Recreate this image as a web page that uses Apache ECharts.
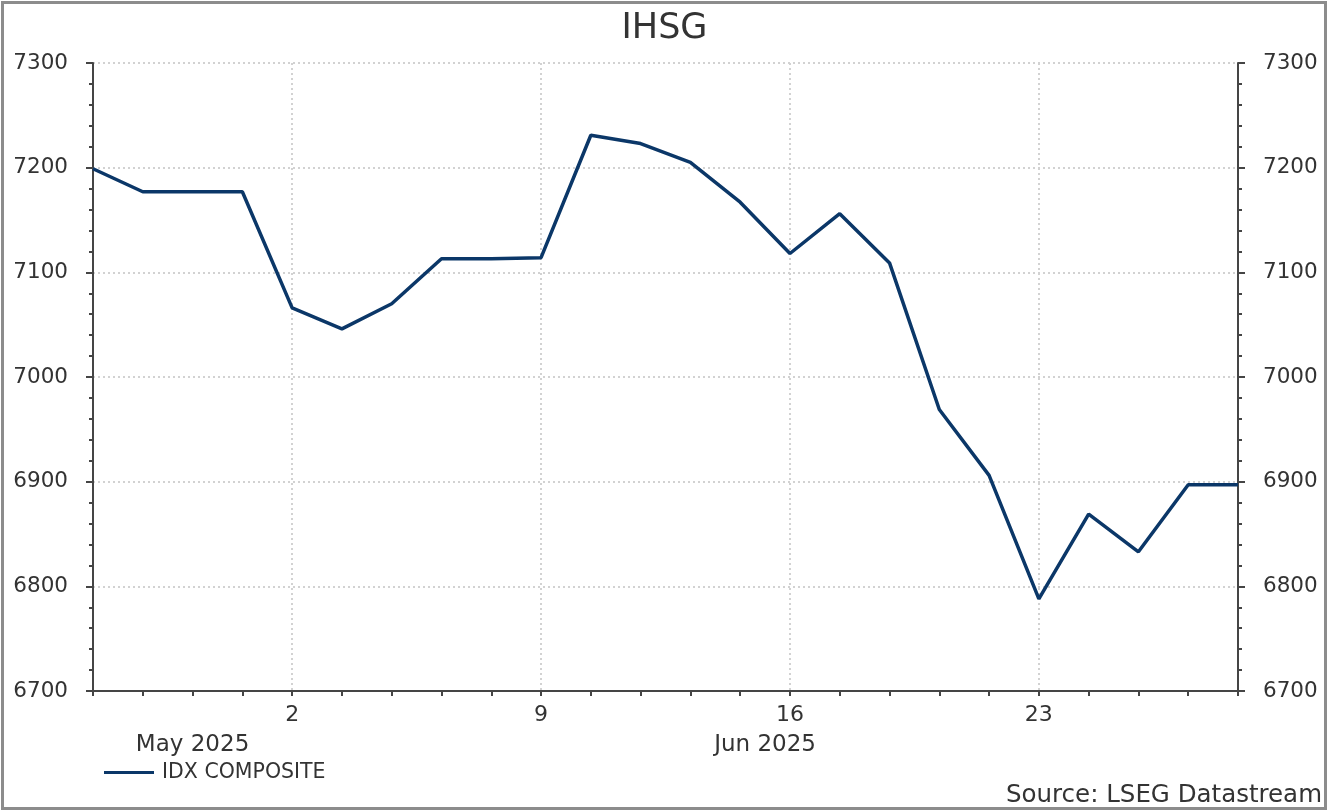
<!DOCTYPE html>
<html>
<head>
<meta charset="utf-8">
<script src="https://cdn.jsdelivr.net/npm/echarts@6/dist/echarts.min.js"></script>
<style>
  html, body { margin: 0; padding: 0; background: #fff; }
  #chart { width: 1329px; height: 812px; }
</style>
</head>
<body>
<div id="chart"></div>
<script>
// ---- data ----
const dates = [
  '2025-05-27','2025-05-28','2025-05-29','2025-05-30',
  '2025-06-02','2025-06-03','2025-06-04','2025-06-05','2025-06-06',
  '2025-06-09','2025-06-10','2025-06-11','2025-06-12','2025-06-13',
  '2025-06-16','2025-06-17','2025-06-18','2025-06-19','2025-06-20',
  '2025-06-23','2025-06-24','2025-06-25','2025-06-26','2025-06-27'
];
const idxComposite = [
  7199, 7177, 7177, 7177,
  7066, 7046, 7070, 7113, 7113,
  7114, 7231, 7223, 7205, 7167,
  7118, 7156, 7109, 6969, 6906,
  6788, 6869, 6833, 6897, 6897
];
const yTicks = [6700, 6800, 6900, 7000, 7100, 7200, 7300];
const monthNames = ['Jan','Feb','Mar','Apr','May','Jun','Jul','Aug','Sep','Oct','Nov','Dec'];
const seriesName = 'IDX COMPOSITE';
const titleText = 'IHSG';
const sourceText = 'Source: LSEG Datastream';

// ---- helpers ----
const FONT = '"DejaVu Sans", "Liberation Sans", Arial, sans-serif';
const isMonday = (v) => new Date(v + 'T00:00:00Z').getUTCDay() === 1;
const textColor = '#333333';
const axisColor = '#454545';

const chart = echarts.init(document.getElementById('chart'), null, { renderer: 'canvas' });

const yAxisCommon = {
  type: 'value',
  min: yTicks[0],
  max: yTicks[yTicks.length - 1],
  interval: 100,
  axisLine: { show: true, lineStyle: { color: axisColor, width: 2 } },
  axisTick: { show: true, length: 7, lineStyle: { color: axisColor, width: 2 } },
  minorTick: { show: true, splitNumber: 5, length: 4, lineStyle: { color: axisColor, width: 2 } },
  axisLabel: { fontSize: 21.5, color: textColor, fontFamily: FONT, margin: 25, formatter: (v) => String(v) }
};

chart.setOption({
  animation: false,
  backgroundColor: '#ffffff',
  title: {
    text: titleText,
    left: 'center',
    top: 6,
    textStyle: { fontSize: 35, fontWeight: 'normal', color: textColor, fontFamily: FONT }
  },
  legend: {
    left: 99,
    top: 757,
    data: [{ name: seriesName, icon: 'rect' }],
    itemWidth: 50,
    itemHeight: 3,
    itemGap: 10,
    textStyle: { fontSize: 20.5, color: textColor, fontFamily: FONT, padding: [0, 0, 0, 3] }
  },
  grid: { left: 93, right: 91, top: 63, bottom: 121, containLabel: false },
  xAxis: {
    type: 'category',
    data: dates,
    boundaryGap: false,
    axisLine: { show: true, lineStyle: { color: axisColor, width: 2 } },
    axisTick: { show: true, interval: 0, length: 5, lineStyle: { color: axisColor, width: 2 } },
    axisLabel: {
      interval: (i, v) => isMonday(v),
      formatter: (v) => String(new Date(v + 'T00:00:00Z').getUTCDate()),
      fontSize: 22, color: textColor, fontFamily: FONT, margin: 13
    },
    splitLine: {
      show: true,
      interval: (i, v) => isMonday(v),
      lineStyle: { color: '#d2d2d2', type: [2, 3], width: 2 }
    }
  },
  yAxis: [
    Object.assign({}, yAxisCommon, {
      position: 'left',
      splitLine: { show: true, lineStyle: { color: '#d2d2d2', type: [2, 3], width: 2 } }
    }),
    Object.assign({}, yAxisCommon, {
      position: 'right',
      splitLine: { show: false }
    })
  ],
  series: [{
    name: seriesName,
    type: 'line',
    data: idxComposite,
    yAxisIndex: 0,
    showSymbol: false,
    symbol: 'none',
    lineStyle: { color: '#0b3768', width: 3.5 },
    itemStyle: { color: '#0b3768' }
  }]
});

// month labels centred under each month's span, plus border and source text
const px = (i) => chart.convertToPixel({ xAxisIndex: 0 }, dates[i]);
const months = [];
dates.forEach((d, i) => {
  const m = d.slice(0, 7);
  if (!months.length || months[months.length - 1].key !== m) months.push({ key: m, start: i });
});
const graphics = months.map((m, k) => {
  const x0 = px(m.start);
  const x1 = k + 1 < months.length ? px(months[k + 1].start) : px(dates.length - 1);
  const [yy, mm] = m.key.split('-');
  return {
    type: 'text',
    x: (x0 + x1) / 2,
    y: 745,
    style: {
      text: monthNames[parseInt(mm, 10) - 1] + ' ' + yy,
      fontSize: 23, fill: textColor, fontFamily: FONT,
      align: 'center', verticalAlign: 'middle'
    }
  };
});
graphics.push({
  type: 'text',
  right: 7,
  top: 783,
  style: { text: sourceText, fontSize: 24.5, fill: textColor, fontFamily: FONT }
});
graphics.push({
  type: 'rect',
  shape: { x: 2.5, y: 2.5, width: 1323, height: 806 },
  style: { fill: 'none', stroke: '#8c8c8c', lineWidth: 3 },
  silent: true
});
chart.setOption({ graphic: graphics });
</script>
</body>
</html>
